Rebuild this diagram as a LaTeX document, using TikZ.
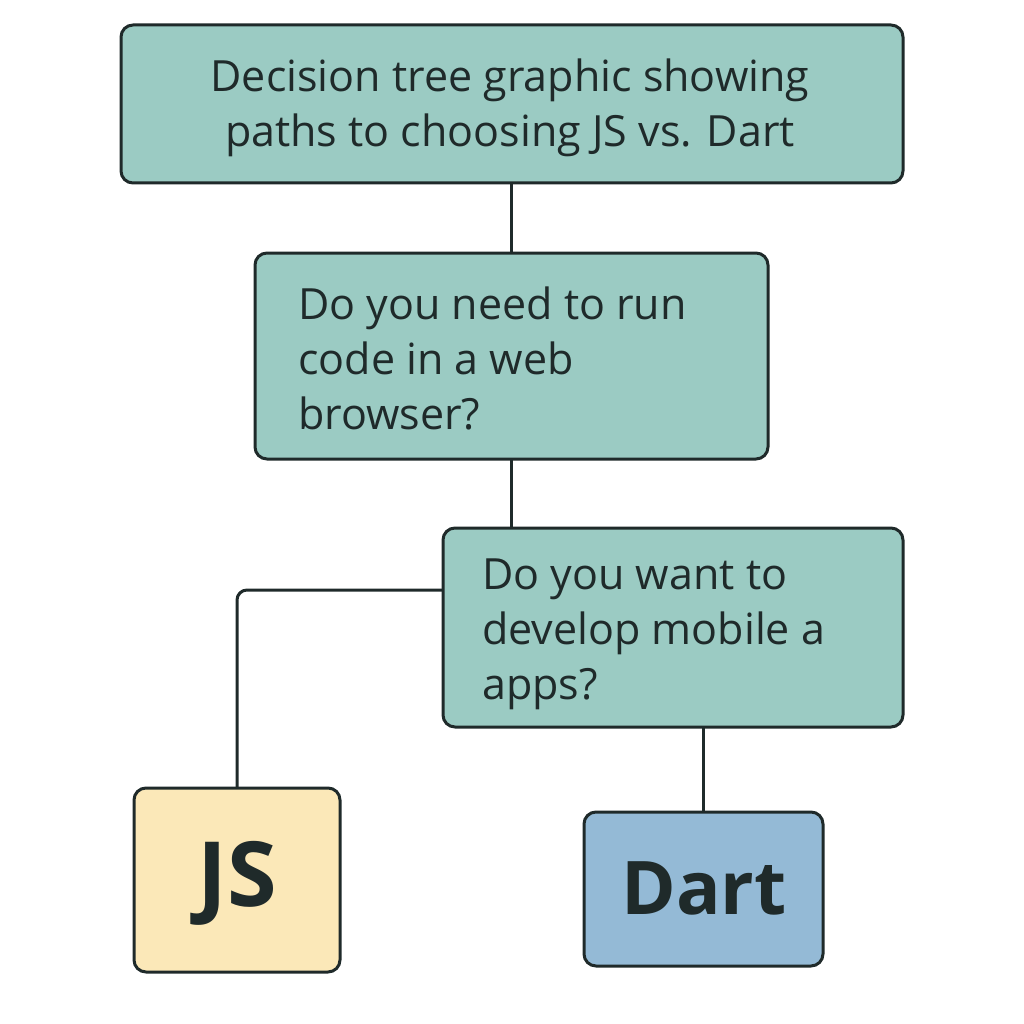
\documentclass[tikz,border=0pt]{standalone}
\usepackage{fontspec}
\setmainfont{Open Sans}
\definecolor{teal}{HTML}{9BCBC3}
\definecolor{jsy}{HTML}{FBE8B8}
\definecolor{dartb}{HTML}{94BAD6}
\definecolor{ink}{HTML}{1F2A2A}
\begin{document}
\begin{tikzpicture}[x=1pt,y=-1pt,
  box/.style={draw=ink,line width=3pt,rounded corners=12pt},
  conn/.style={draw=ink,line width=3pt},
  txt/.style={text=ink,font=\fontsize{43}{55}\selectfont,align=left,anchor=north west,inner sep=0pt}]
\useasboundingbox (0,0) rectangle (1024,1024);
\draw[box,fill=teal] (121,25) rectangle (903,183);
\node[text=ink,font=\fontsize{43}{55}\selectfont,align=center,inner sep=0pt] (t) at (510,108) {Decision tree graphic showing\\paths to choosing JS vs. Dart};
\draw[box,fill=teal] (255,253) rectangle (768,459);
\node[txt] (q1) at (298,287) {Do you need to run\\code in a web\\browser?};
\draw[box,fill=teal] (443,528) rectangle (903,727);
\node[txt] (q2) at (482,559) {Do you want to\\develop mobile a\\apps?};
\draw[box,fill=jsy] (134,788) rectangle (340,972);
\node[text=ink,font=\bfseries\fontsize{90}{92}\selectfont] (js) at (237,883) {JS};
\draw[box,fill=dartb] (584,812) rectangle (823,966);
\node[text=ink,font=\bfseries\fontsize{74}{76}\selectfont] (dart) at (704,888) {Dart};
\coordinate (a1) at (511,183); \coordinate (a2) at (511,253);
\coordinate (b1) at (511,459); \coordinate (b2) at (511,528);
\coordinate (c1) at (443,590); \coordinate (c2) at (237,788);
\coordinate (d1) at (703,727); \coordinate (d2) at (703,812);
\draw[conn] (a1) -- (a2);
\draw[conn] (b1) -- (b2);
\draw[conn,rounded corners=10pt] (c1) -| (c2);
\draw[conn] (d1) -- (d2);
\end{tikzpicture}
\end{document}
